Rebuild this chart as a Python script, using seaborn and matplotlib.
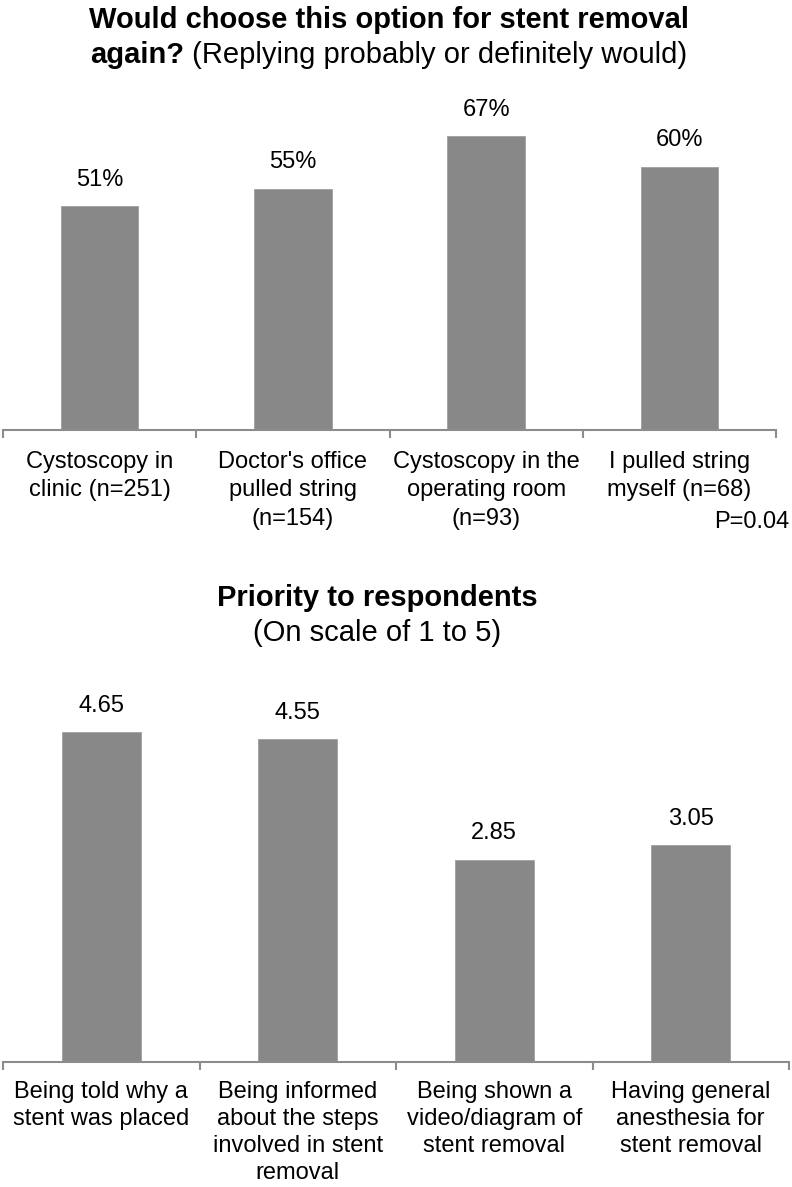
import matplotlib
matplotlib.use("Agg")
import matplotlib.pyplot as plt
import seaborn as sns
import pandas as pd
import numpy as np

sns.set_style("white")
plt.rcParams['font.family'] = ['Liberation Sans', 'DejaVu Sans']
plt.rcParams['text.color'] = 'black'
plt.rcParams['xtick.color'] = 'black'

# ---- data ----
top_categories = ["Cystoscopy in\nclinic (n=251)", "Doctor's office\npulled string\n(n=154)",
                  "Cystoscopy in the\noperating room\n(n=93)", "I pulled string\nmyself (n=68)"]
top_values = [51, 55, 67, 60]
top_labels = ["51%", "55%", "67%", "60%"]

bottom_categories = ["Being told why a\nstent was placed",
                     "Being informed\nabout the steps\ninvolved in stent\nremoval",
                     "Being shown a\nvideo/diagram of\nstent removal",
                     "Having general\nanesthesia for\nstent removal"]
bottom_values = [4.65, 4.55, 2.85, 3.05]
bottom_labels = ["4.65", "4.55", "2.85", "3.05"]

BAR = "#888888"
AXC = "#8c8c8c"
W, H = 792, 1187
fig = plt.figure(figsize=(W / 100, H / 100), dpi=100)

def px_axes(left, right, top, bottom):
    return fig.add_axes([left / W, 1 - bottom / H, (right - left) / W, (bottom - top) / H])

def draw(ax, cats, vals, labels, ymax, lsp, pad):
    df = pd.DataFrame({"cat": cats, "val": vals})
    sns.barplot(data=df, x="cat", y="val", color=BAR, saturation=1, width=0.4, ax=ax,
                edgecolor="#a0a0a0", linewidth=0.6)
    ax.set_ylim(0, ymax)
    ax.set_xlim(-0.5, len(cats) - 0.5)
    for s in ["top", "right", "left"]:
        ax.spines[s].set_visible(False)
    ax.spines["bottom"].set_color(AXC)
    ax.spines["bottom"].set_linewidth(1.5)
    ax.set_yticks([])
    ax.set_xlabel("")
    ax.set_ylabel("")
    ax.set_xticks(range(len(cats)))
    ax.set_xticklabels(cats, fontsize=17, linespacing=lsp, va="top", color="black")
    ax.tick_params(axis="x", which="major", length=0, pad=pad, bottom=True)
    ax.set_xticks(np.arange(-0.5, len(cats), 1.0), minor=True)
    ax.tick_params(axis="x", which="minor", length=6, width=1.5, color=AXC,
                   direction="out", bottom=True)
    for i, (v, lab) in enumerate(zip(vals, labels)):
        ax.annotate(lab, (i, v), xytext=(0, 11), textcoords="offset points",
                    ha="center", va="bottom", fontsize=17, color="black",
                    annotation_clip=False)

ax1 = px_axes(3, 776, 79, 430)
draw(ax1, top_categories, top_values, top_labels, 80, 1.38, 15)

ax2 = px_axes(3, 789, 707, 1062)
draw(ax2, bottom_categories, bottom_values, bottom_labels, 5, 1.28, 14)

# ---- titles ----
def fy(y):
    return 1 - y / H

fig.text(389 / W, fy(20), "Would choose this option for stent removal", ha="center", va="center",
         fontsize=21, fontweight="bold")

fig.canvas.draw()
r = fig.canvas.get_renderer()
t_a = fig.text(0, fy(55), "again?", ha="left", va="center", fontsize=21, fontweight="bold")
t_b = fig.text(0, fy(55), " (Replying probably or definitely would)", ha="left", va="center", fontsize=21)
wa = t_a.get_window_extent(r).width
wb = t_b.get_window_extent(r).width
x0 = 389 - (wa + wb) / 2
t_a.set_x(x0 / W)
t_b.set_x((x0 + wa) / W)

fig.text(789 / W, fy(522), "P=0.04", ha="right", va="center", fontsize=17)

fig.text(377 / W, fy(598), "Priority to respondents", ha="center", va="center",
         fontsize=21, fontweight="bold")
fig.text(377 / W, fy(633), "(On scale of 1 to 5)", ha="center", va="center", fontsize=21)

fig.savefig("out.png", dpi=100, facecolor="white")
